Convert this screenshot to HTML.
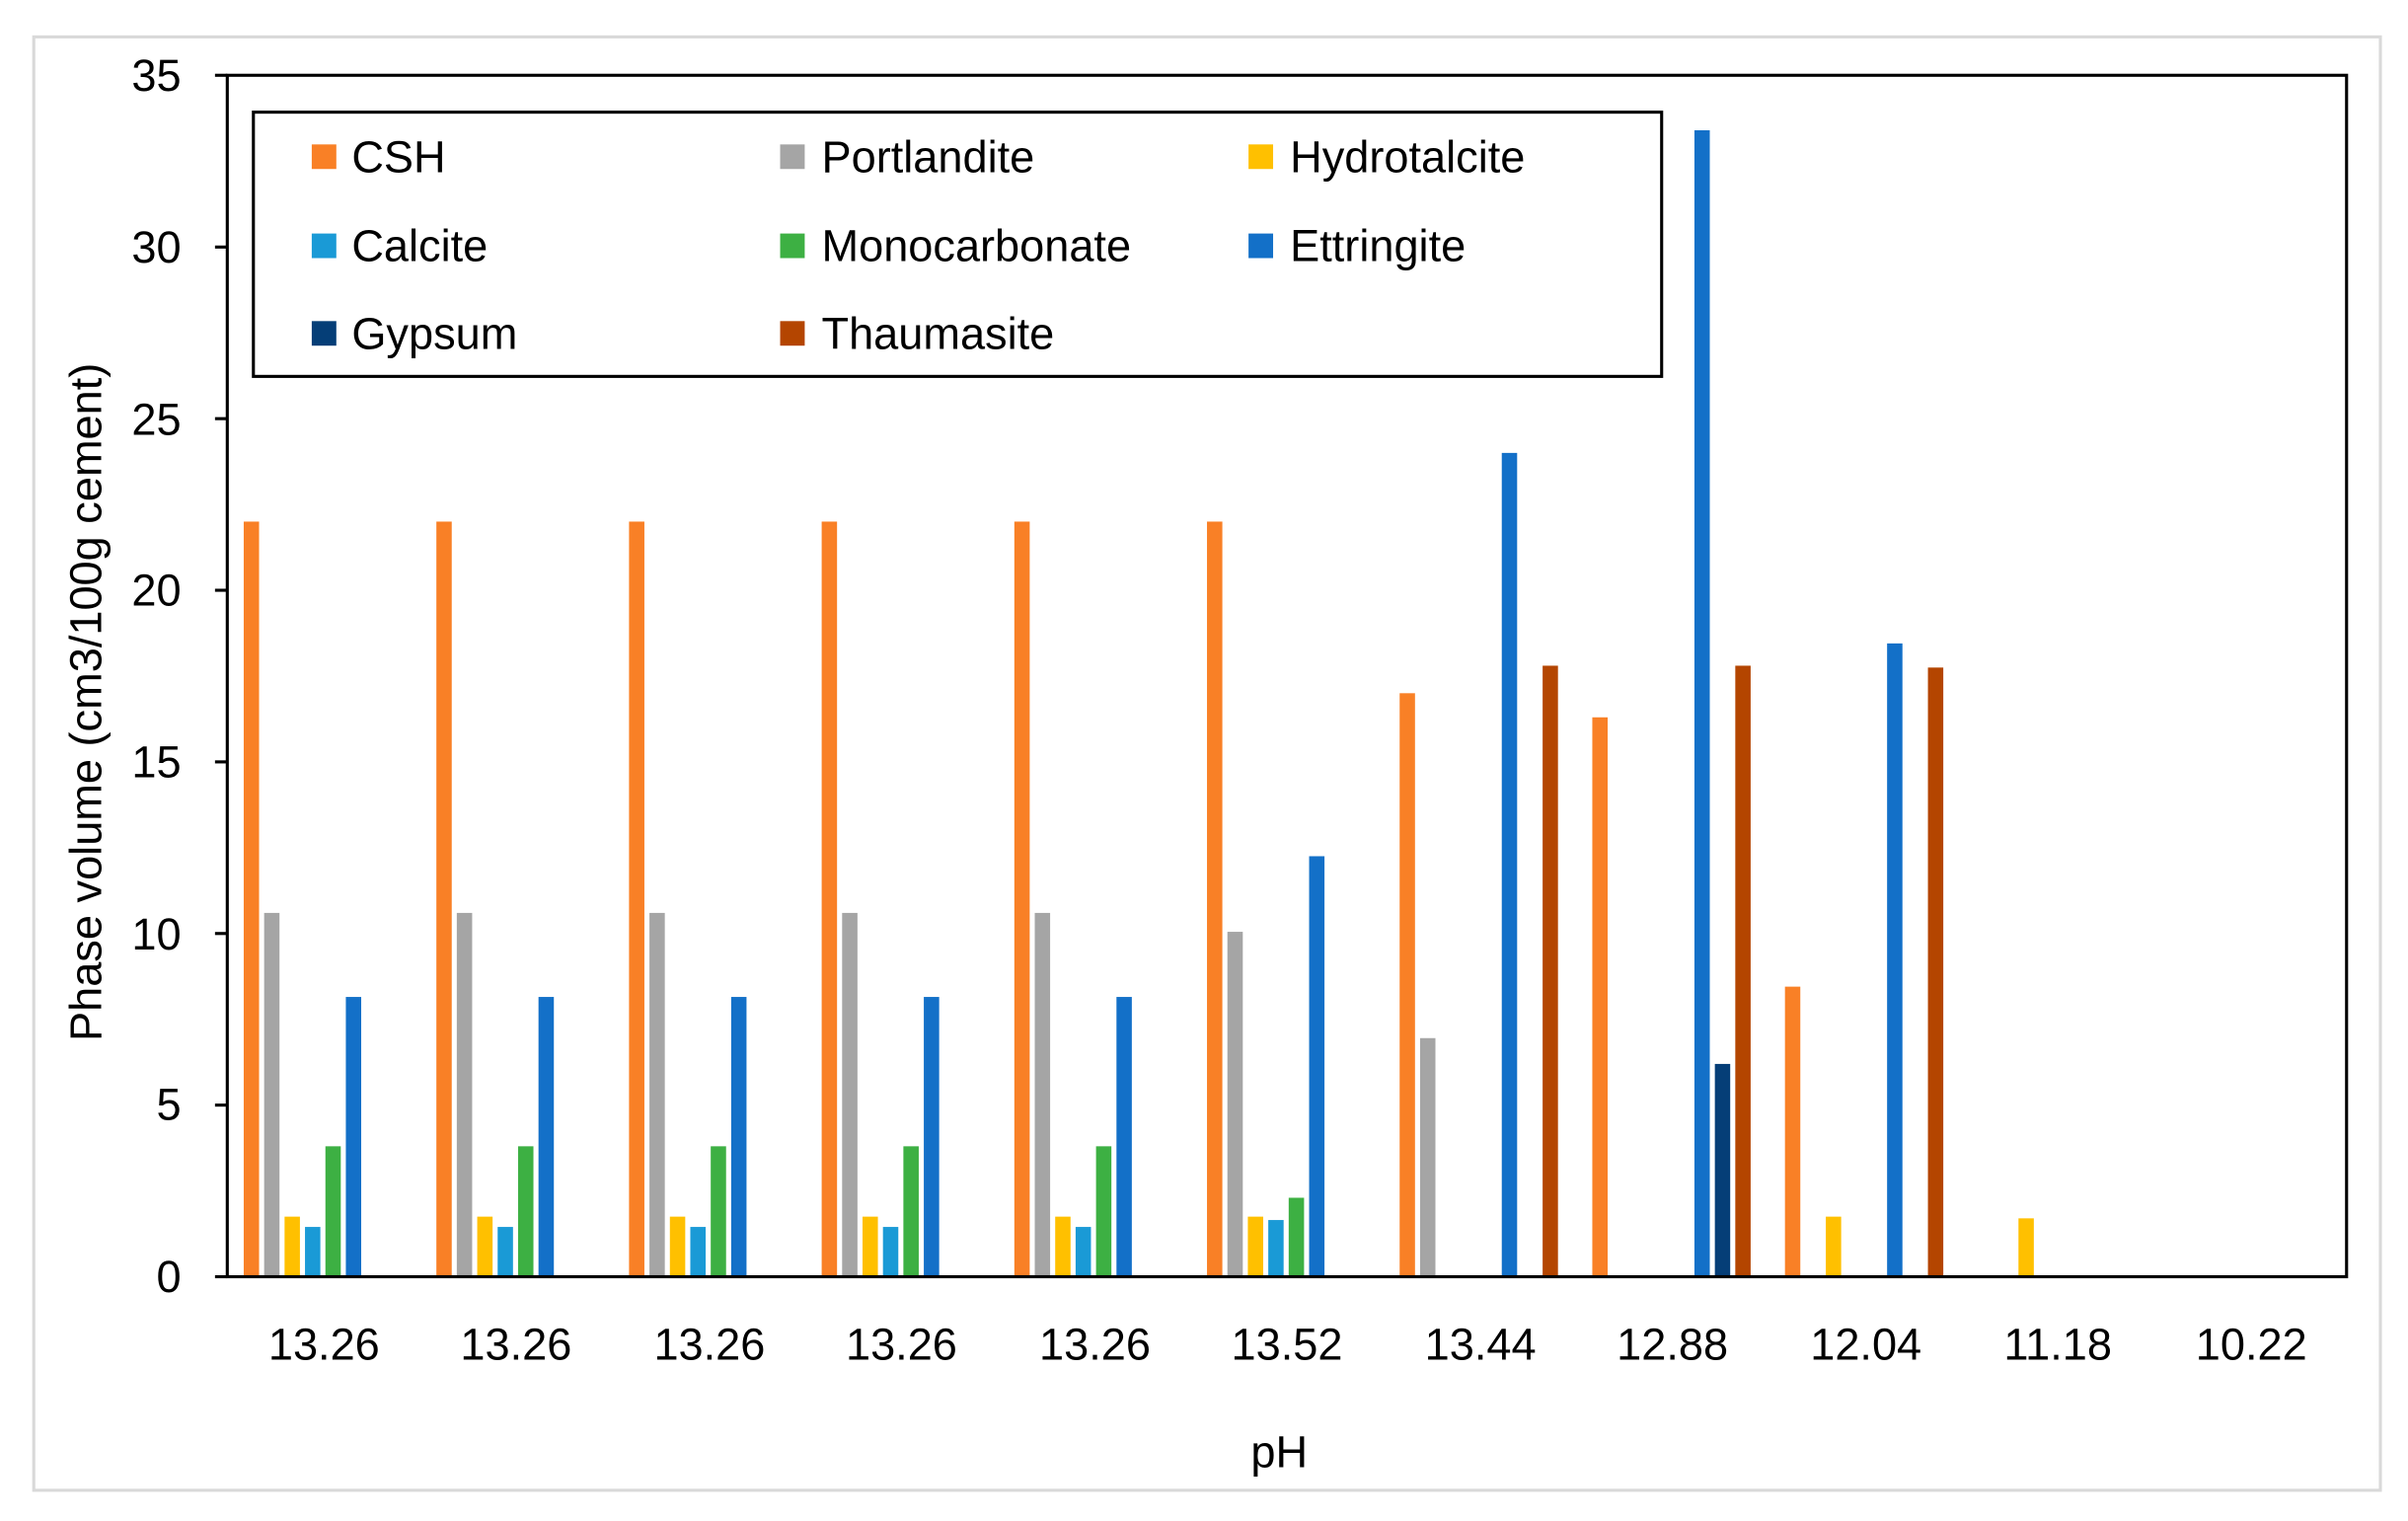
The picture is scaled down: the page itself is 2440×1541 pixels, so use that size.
<!DOCTYPE html>
<html><head><style>html,body{margin:0;padding:0;background:#fff}svg{display:block}</style></head>
<body>
<svg width="2440" height="1541" viewBox="0 0 1568 990" preserveAspectRatio="none" xmlns="http://www.w3.org/2000/svg" font-family="Liberation Sans, sans-serif">
<rect x="22" y="24" width="1528" height="946" fill="#fff" stroke="#d9d9d9" stroke-width="2"/>
<defs>
<g id="std">
<rect x="-52" y="339.5" width="10" height="491.5" fill="#F98026"/>
<rect x="-38.7" y="594.2" width="10" height="236.8" fill="#A5A5A5"/>
<rect x="-25.4" y="791.9" width="10" height="39.1" fill="#FFC000"/>
<rect x="-12.1" y="798.6" width="10" height="32.4" fill="#1A9AD6"/>
<rect x="1.2" y="746.1" width="10" height="84.9" fill="#3DB043"/>
<rect x="14.5" y="648.9" width="10" height="182.1" fill="#1370C8"/>
</g>
</defs>
<use href="#std" transform="translate(210.7,0)"/>
<use href="#std" transform="translate(336.15,0)"/>
<use href="#std" transform="translate(461.6,0)"/>
<use href="#std" transform="translate(587.05,0)"/>
<use href="#std" transform="translate(712.5,0)"/>
<g transform="translate(837.95,0)">
<rect x="-52" y="339.5" width="10" height="491.5" fill="#F98026"/>
<rect x="-38.7" y="606.5" width="10" height="224.5" fill="#A5A5A5"/>
<rect x="-25.4" y="791.9" width="10" height="39.1" fill="#FFC000"/>
<rect x="-12.1" y="794.1" width="10" height="36.9" fill="#1A9AD6"/>
<rect x="1.2" y="779.6" width="10" height="51.4" fill="#3DB043"/>
<rect x="14.5" y="557.3" width="10" height="273.7" fill="#1370C8"/>
</g>
<g transform="translate(963.4,0)">
<rect x="-52" y="451.2" width="10" height="379.8" fill="#F98026"/>
<rect x="-38.7" y="675.7" width="10" height="155.3" fill="#A5A5A5"/>
<rect x="14.5" y="294.8" width="10" height="536.2" fill="#1370C8"/>
<rect x="41.1" y="433.3" width="10" height="397.7" fill="#B44500"/>
</g>
<g transform="translate(1088.85,0)">
<rect x="-52" y="466.9" width="10" height="364.1" fill="#F98026"/>
<rect x="14.5" y="84.8" width="10" height="746.2" fill="#1370C8"/>
<rect x="27.8" y="692.5" width="10" height="138.5" fill="#053E77"/>
<rect x="41.1" y="433.3" width="10" height="397.7" fill="#B44500"/>
</g>
<g transform="translate(1214.3,0)">
<rect x="-52" y="642.2" width="10" height="188.8" fill="#F98026"/>
<rect x="-25.4" y="791.9" width="10" height="39.1" fill="#FFC000"/>
<rect x="14.5" y="418.8" width="10" height="412.2" fill="#1370C8"/>
<rect x="41.1" y="434.5" width="10" height="396.5" fill="#B44500"/>
</g>
<g transform="translate(1339.75,0)">
<rect x="-25.4" y="793" width="10" height="38" fill="#FFC000"/>
</g>
<rect x="148" y="49" width="1380" height="782" fill="none" stroke="#000" stroke-width="2"/>
<g stroke="#000" stroke-width="2">
<line x1="140" y1="831" x2="148" y2="831"/><line x1="140" y1="719.3" x2="148" y2="719.3"/><line x1="140" y1="607.6" x2="148" y2="607.6"/><line x1="140" y1="495.9" x2="148" y2="495.9"/><line x1="140" y1="384.2" x2="148" y2="384.2"/><line x1="140" y1="272.5" x2="148" y2="272.5"/><line x1="140" y1="160.8" x2="148" y2="160.8"/><line x1="140" y1="49" x2="148" y2="49"/>
</g>
<g font-size="29" text-anchor="end" fill="#000">
<text x="118" y="841">0</text><text x="118" y="729">5</text><text x="118" y="618">10</text><text x="118" y="506">15</text><text x="118" y="394">20</text><text x="118" y="283">25</text><text x="118" y="171">30</text><text x="118" y="59">35</text>
</g>
<g font-size="29" text-anchor="middle" fill="#000">
<text x="211" y="885">13.26</text><text x="336" y="885">13.26</text><text x="462" y="885">13.26</text><text x="587" y="885">13.26</text><text x="713" y="885">13.26</text><text x="838" y="885">13.52</text><text x="964" y="885">13.44</text><text x="1089" y="885">12.88</text><text x="1215" y="885">12.04</text><text x="1340" y="885">11.18</text><text x="1466" y="885">10.22</text>
<text x="833" y="955">pH</text>
<text transform="translate(66,457) rotate(-90)">Phase volume (cm3/100g cement)</text>
</g>
<rect x="165" y="73" width="917" height="172" fill="#fff" stroke="#000" stroke-width="2"/>
<g font-size="29" fill="#000">
<rect x="203" y="94" width="16" height="16" fill="#F98026"/><text x="229" y="112">CSH</text>
<rect x="508" y="94" width="16" height="16" fill="#A5A5A5"/><text x="535" y="112">Portlandite</text>
<rect x="813" y="94" width="16" height="16" fill="#FFC000"/><text x="840" y="112">Hydrotalcite</text>
<rect x="203" y="152" width="16" height="16" fill="#1A9AD6"/><text x="229" y="170">Calcite</text>
<rect x="508" y="152" width="16" height="16" fill="#3DB043"/><text x="535" y="170">Monocarbonate</text>
<rect x="813" y="152" width="16" height="16" fill="#1370C8"/><text x="840" y="170">Ettringite</text>
<rect x="203" y="209" width="16" height="16" fill="#053E77"/><text x="229" y="227">Gypsum</text>
<rect x="508" y="209" width="16" height="16" fill="#B44500"/><text x="535" y="227">Thaumasite</text>
</g>
</svg>
</body></html>
